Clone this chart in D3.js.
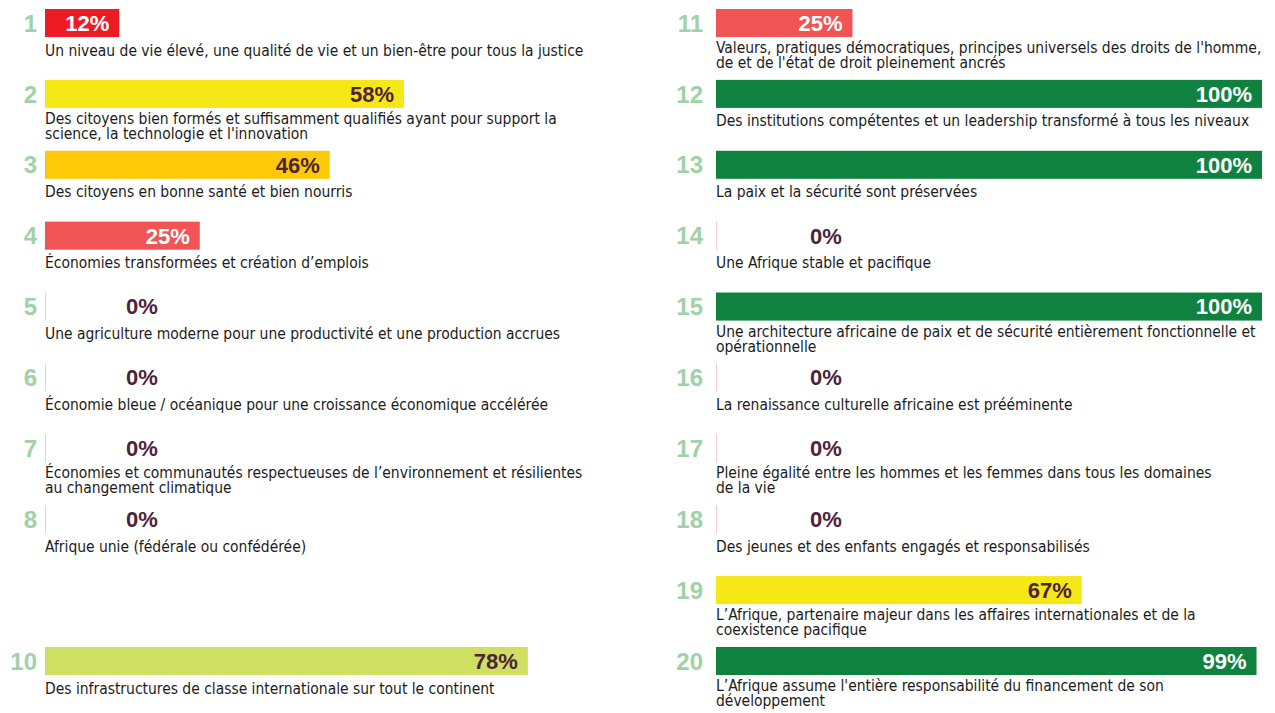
<!DOCTYPE html>
<html>
<head>
<meta charset="utf-8">
<script src="https://cdn.jsdelivr.net/npm/d3@7"></script>
<style>
  html, body { margin: 0; padding: 0; background: #ffffff; }
  svg { display: block; }
</style>
</head>
<body>
<svg id="chart" width="1275" height="713"></svg>
<script>
// ---- data ----
const goalIds = [1, 2, 3, 4, 5, 6, 7, 8, 10, 11, 12, 13, 14, 15, 16, 17, 18, 19, 20];
const goalValues = [12, 58, 46, 25, 0, 0, 0, 0, 78, 25, 100, 100, 0, 100, 0, 0, 0, 67, 99];
const goalLabels = [
  "Un niveau de vie élevé, une qualité de vie et un bien-être pour tous la justice",
  "Des citoyens bien formés et suffisamment qualifiés ayant pour support la\nscience, la technologie et l'innovation",
  "Des citoyens en bonne santé et bien nourris",
  "Économies transformées et création d’emplois",
  "Une agriculture moderne pour une productivité et une production accrues",
  "Économie bleue / océanique pour une croissance économique accélérée",
  "Économies et communautés respectueuses de l’environnement et résilientes\nau changement climatique",
  "Afrique unie (fédérale ou confédérée)",
  "Des infrastructures de classe internationale sur tout le continent",
  "Valeurs, pratiques démocratiques, principes universels des droits de l'homme,\nde et de l'état de droit pleinement ancrés",
  "Des institutions compétentes et un leadership transformé à tous les niveaux",
  "La paix et la sécurité sont préservées",
  "Une Afrique stable et pacifique",
  "Une architecture africaine de paix et de sécurité entièrement fonctionnelle et\nopérationnelle",
  "La renaissance culturelle africaine est prééminente",
  "Pleine égalité entre les hommes et les femmes dans tous les domaines\nde la vie",
  "Des jeunes et des enfants engagés et responsabilisés",
  "L’Afrique, partenaire majeur dans les affaires internationales et de la\ncoexistence pacifique",
  "L’Afrique  assume l'entière responsabilité du financement de son\ndéveloppement"
];
const colorThresholds = [20, 40, 50, 70, 90];
const colorBands = ["#ed1c24", "#f05454", "#fdc908", "#f6e817", "#cfdf62", "#0f8240"];
const labelInk = ["#ffffff", "#ffffff", "#4f2339", "#4f2339", "#4f2339", "#ffffff"];

// ---- layout ----
const svg = d3.select("#chart");
const colX = [
  d3.scaleLinear().domain([0, 100]).range([45, 664]),
  d3.scaleLinear().domain([0, 100]).range([716, 1262])
];
const numRight = [37, 703];
const zeroOffset = [97, 110];
const slotY = d3.scaleBand().domain(d3.range(10)).range([9, 675]).paddingInner(0.6045).paddingOuter(0);
const fill = d3.scaleThreshold().domain(colorThresholds).range(colorBands);
const ink = d3.scaleThreshold().domain(colorThresholds).range(labelInk);
const fmt = v => d3.format("d")(v) + "%";
const narrow = 0.966;

const rows = goalIds.map((id, i) => ({
  id, value: goalValues[i], label: goalLabels[i],
  col: id <= 10 ? 0 : 1,
  slot: id <= 10 ? id - 1 : id - 11
}));

const g = svg.selectAll("g.row").data(rows).join("g").attr("class", "row");
const bw = slotY.bandwidth();

// goal number
g.append("text")
  .attr("x", d => numRight[d.col])
  .attr("y", d => slotY(d.slot) + bw / 2)
  .attr("dy", "0.36em")
  .attr("text-anchor", "end")
  .attr("font-family", "'Liberation Sans', Arial, sans-serif")
  .attr("font-weight", 700)
  .attr("font-size", 24)
  .attr("fill", "#a0d1a7")
  .text(d => d.id);

// bars
g.filter(d => d.value > 0).append("rect")
  .attr("x", d => colX[d.col](0))
  .attr("y", d => slotY(d.slot))
  .attr("width", d => colX[d.col](d.value) - colX[d.col](0))
  .attr("height", bw)
  .attr("fill", d => fill(d.value));

// zero line
g.filter(d => d.value === 0).append("line")
  .attr("x1", d => colX[d.col](0) + 0.5)
  .attr("x2", d => colX[d.col](0) + 0.5)
  .attr("y1", d => slotY(d.slot))
  .attr("y2", d => slotY(d.slot) + bw)
  .attr("stroke", "#f6c9cc")
  .attr("stroke-width", 1);

// value labels
g.append("text")
  .attr("x", d => d.value > 0 ? colX[d.col](d.value) - 10 : colX[d.col](0) + zeroOffset[d.col])
  .attr("y", d => slotY(d.slot) + bw / 2)
  .attr("dy", "0.36em")
  .attr("text-anchor", d => d.value > 0 ? "end" : "middle")
  .attr("font-family", "'Liberation Sans', Arial, sans-serif")
  .attr("font-weight", 700)
  .attr("font-size", 22)
  .attr("fill", d => d.value > 0 ? ink(d.value) : "#4f2339")
  .text(d => fmt(d.value));

// descriptions (horizontally condensed)
const desc = g.append("text")
  .attr("transform", d => `translate(${colX[d.col](0)},${slotY(d.slot) + bw + (d.label.includes("\n") ? 16 : 18.5)}) scale(${narrow},1)`)
  .attr("font-family", "'DejaVu Sans Condensed', 'Liberation Sans Narrow', sans-serif")
  .attr("font-size", 16)
  .attr("fill", "#1b1b1b");
desc.selectAll("tspan").data(d => d.label.split("\n"))
  .join("tspan")
  .attr("x", 0)
  .attr("dy", (t, i) => i === 0 ? 0 : 15)
  .text(t => t);
</script>
</body>
</html>
